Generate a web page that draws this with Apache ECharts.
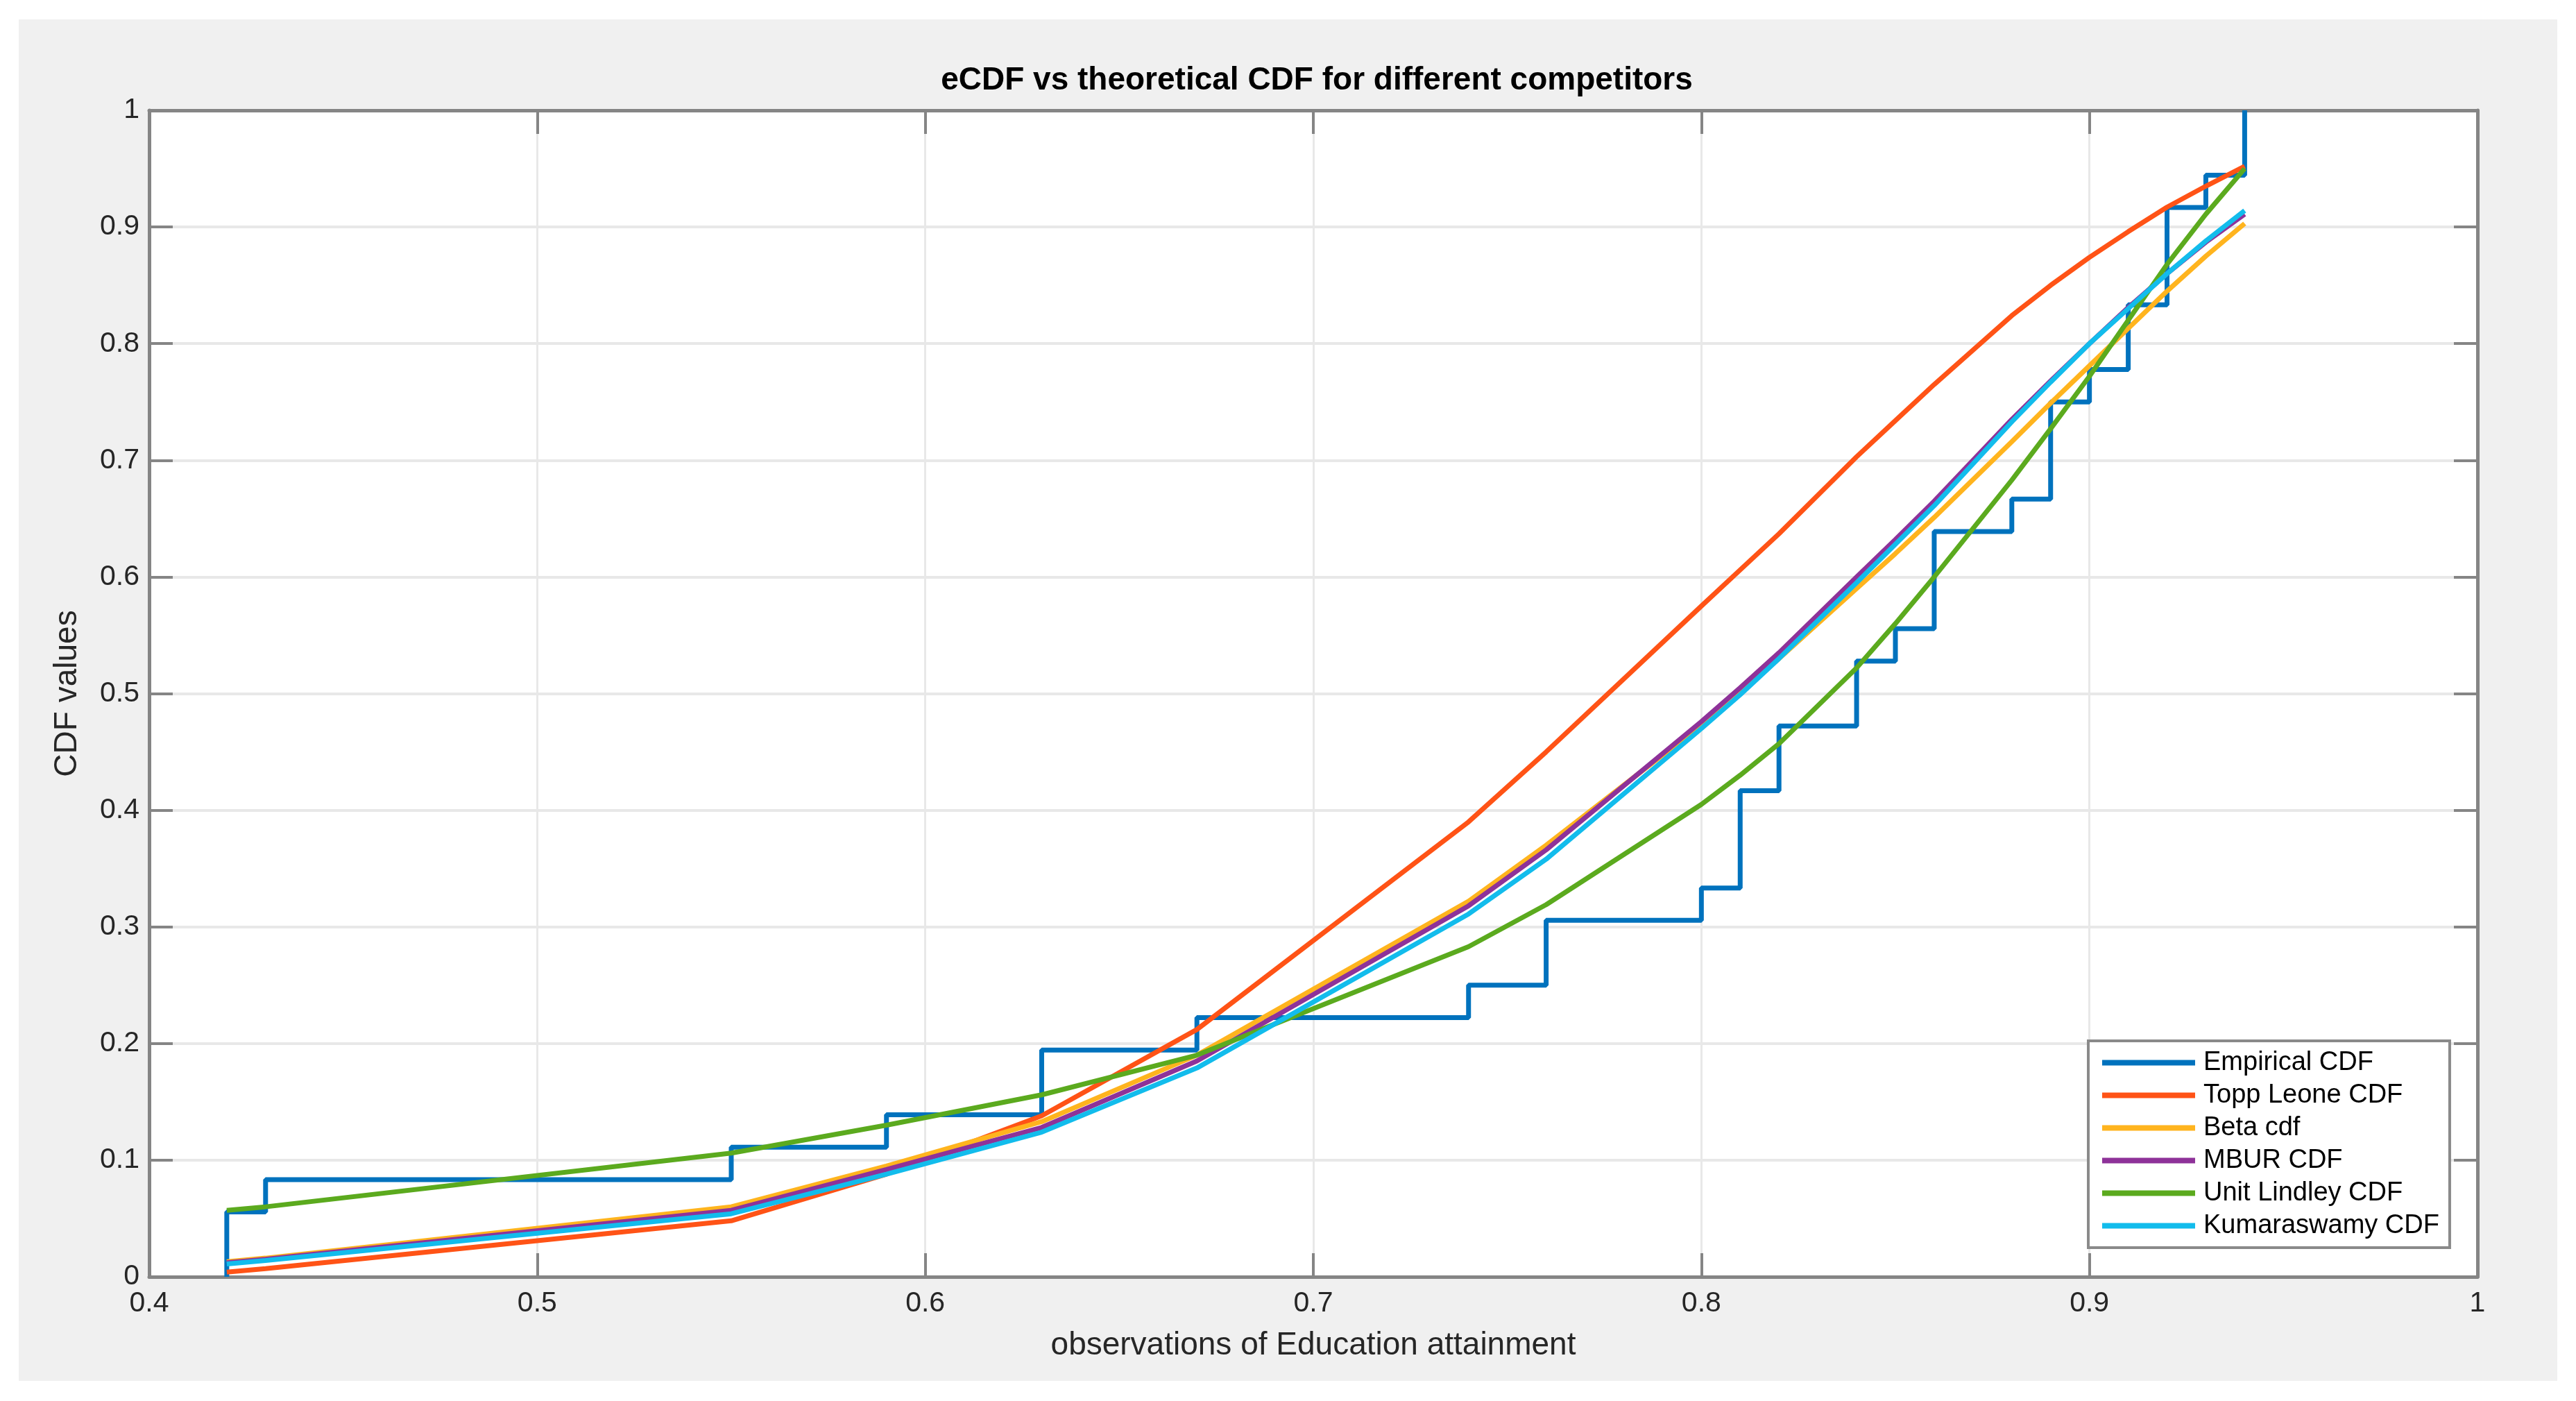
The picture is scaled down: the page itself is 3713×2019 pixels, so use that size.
<!DOCTYPE html>
<html lang="en">
<head>
    <meta charset="UTF-8">
    <title>eCDF vs theoretical CDF</title>
    <script src="https://cdn.jsdelivr.net/npm/echarts@6/dist/echarts.min.js"></script>
    <style>
        html, body { margin: 0; padding: 0; background: #ffffff; }
        #chart { width: 3713px; height: 2019px; }
    </style>
</head>
<body>
    <div id="chart"></div>

    <script>
        // empirical CDF (stairs), x then y
        const ecdfX = [0.42, 0.42, 0.43, 0.55, 0.59, 0.63, 0.67, 0.74, 0.76, 0.80, 0.81,
                       0.82, 0.84, 0.85, 0.86, 0.88, 0.89, 0.90, 0.91, 0.92, 0.93, 0.94];
        const ecdfY = [0, 0.0556, 0.0833, 0.1111, 0.1389, 0.1944, 0.2222, 0.25, 0.3056, 0.3333, 0.4167,
                       0.4722, 0.5278, 0.5556, 0.6389, 0.6667, 0.75, 0.7778, 0.8333, 0.9167, 0.9444, 1.0];

        // observations where the fitted CDFs are evaluated
        const obsX = [0.42, 0.43, 0.55, 0.59, 0.63, 0.67, 0.74, 0.76, 0.80, 0.81, 0.82,
                      0.84, 0.85, 0.86, 0.88, 0.89, 0.90, 0.91, 0.92, 0.93, 0.94];

        const toppLeone = [0.004, 0.007, 0.048, 0.088, 0.138, 0.212, 0.390, 0.450, 0.575, 0.606, 0.637,
                           0.703, 0.734, 0.765, 0.824, 0.850, 0.874, 0.896, 0.917, 0.935, 0.952];
        const betaCdf   = [0.013, 0.016, 0.060, 0.095, 0.133, 0.190, 0.322, 0.370, 0.473, 0.501, 0.530,
                           0.590, 0.620, 0.651, 0.716, 0.749, 0.781, 0.813, 0.845, 0.875, 0.903];
        const mburCdf   = [0.012, 0.015, 0.057, 0.092, 0.128, 0.185, 0.318, 0.366, 0.476, 0.505, 0.535,
                           0.600, 0.632, 0.665, 0.735, 0.768, 0.800, 0.831, 0.860, 0.887, 0.911];
        const unitLindley = [0.057, 0.060, 0.106, 0.130, 0.156, 0.190, 0.283, 0.319, 0.405, 0.430, 0.457,
                             0.522, 0.560, 0.600, 0.683, 0.727, 0.772, 0.820, 0.868, 0.911, 0.950];
        const kumaraswamy = [0.011, 0.014, 0.054, 0.088, 0.124, 0.179, 0.311, 0.358, 0.470, 0.499, 0.530,
                             0.595, 0.628, 0.661, 0.733, 0.767, 0.800, 0.830, 0.860, 0.888, 0.914];

        const seriesNames = ['Empirical CDF', 'Topp Leone CDF', 'Beta cdf', 'MBUR CDF', 'Unit Lindley CDF', 'Kumaraswamy CDF'];
        const colors = ['#0072BD', '#FF5316', '#FFB41E', '#8E3299', '#5BAA1E', '#12BCEC'];

        function pairs(xs, ys) {
            return xs.map(function (x, i) { return [x, ys[i]]; });
        }

        var chart = echarts.init(document.getElementById('chart'));
        var font = 'Liberation Sans, Arial, sans-serif';
        var axisGray = '#858585';
        var gridGray = '#e8e8e8';

        function lineSeries(name, data, color, step) {
            return {
                name: name,
                type: 'line',
                data: data,
                step: step || false,
                showSymbol: false,
                symbol: 'none',
                color: color,
                lineStyle: { color: color, width: 7 },
                animation: false
            };
        }

        var option = {
            animation: false,
            textStyle: { fontFamily: font },
            color: colors,
            graphic: [{
                type: 'rect',
                z: -10,
                silent: true,
                shape: { x: 27, y: 28, width: 3659, height: 1962 },
                style: { fill: '#f0f0f0' }
            }],
            title: {
                text: 'eCDF vs theoretical CDF for different competitors',
                left: 1893,
                textAlign: 'center',
                top: 88,
                textStyle: { fontSize: 46, fontWeight: 'bold', color: '#000000', fontFamily: font }
            },
            grid: {
                left: 215, right: 142, top: 159, bottom: 179,
                show: true, backgroundColor: '#ffffff', borderWidth: 0
            },
            legend: {
                data: seriesNames,
                orient: 'vertical',
                left: 3010,
                top: 1500,
                icon: 'rect',
                itemWidth: 134,
                itemHeight: 8,
                itemGap: 0,
                padding: [8, 15, 8, 20],
                backgroundColor: '#ffffff',
                borderColor: '#8a8a8a',
                borderWidth: 4,
                borderRadius: 0,
                textStyle: {
                    fontSize: 38, color: '#000000', fontFamily: font,
                    lineHeight: 47, padding: [0, 0, 0, 7]
                }
            },
            xAxis: [{
                type: 'value',
                min: 0.4, max: 1, interval: 0.1,
                position: 'bottom',
                name: 'observations of Education attainment',
                nameLocation: 'middle',
                nameGap: 76,
                nameTextStyle: { fontSize: 46, color: '#262626', fontFamily: font },
                axisLine: { show: true, onZero: false, lineStyle: { color: axisGray, width: 5 } },
                axisTick: { show: true, inside: true, length: 34, lineStyle: { color: axisGray, width: 4 } },
                axisLabel: { fontSize: 41, color: '#262626', margin: 18, fontFamily: font },
                splitLine: { show: true, lineStyle: { color: gridGray, width: 3 } }
            }, {
                type: 'value',
                min: 0.4, max: 1, interval: 0.1,
                position: 'top',
                axisLine: { show: true, onZero: false, lineStyle: { color: axisGray, width: 5 } },
                axisTick: { show: true, inside: true, length: 34, lineStyle: { color: axisGray, width: 4 } },
                axisLabel: { show: false },
                splitLine: { show: false }
            }],
            yAxis: [{
                type: 'value',
                min: 0, max: 1, interval: 0.1,
                position: 'left',
                name: 'CDF values',
                nameLocation: 'middle',
                nameRotate: 90,
                nameGap: 95,
                nameTextStyle: { fontSize: 46, color: '#262626', fontFamily: font },
                axisLine: { show: true, onZero: false, lineStyle: { color: axisGray, width: 5 } },
                axisTick: { show: true, inside: true, length: 34, lineStyle: { color: axisGray, width: 4 } },
                axisLabel: { fontSize: 41, color: '#262626', margin: 14, fontFamily: font },
                splitLine: { show: true, lineStyle: { color: gridGray, width: 4 } }
            }, {
                type: 'value',
                min: 0, max: 1, interval: 0.1,
                position: 'right',
                axisLine: { show: true, onZero: false, lineStyle: { color: axisGray, width: 5 } },
                axisTick: { show: true, inside: true, length: 34, lineStyle: { color: axisGray, width: 4 } },
                axisLabel: { show: false },
                splitLine: { show: false }
            }],
            series: [
                lineSeries(seriesNames[0], pairs(ecdfX, ecdfY), colors[0], 'end'),
                lineSeries(seriesNames[1], pairs(obsX, toppLeone), colors[1]),
                lineSeries(seriesNames[2], pairs(obsX, betaCdf), colors[2]),
                lineSeries(seriesNames[3], pairs(obsX, mburCdf), colors[3]),
                lineSeries(seriesNames[4], pairs(obsX, unitLindley), colors[4]),
                lineSeries(seriesNames[5], pairs(obsX, kumaraswamy), colors[5])
            ]
        };

        chart.setOption(option);
    </script>
</body>
</html>
